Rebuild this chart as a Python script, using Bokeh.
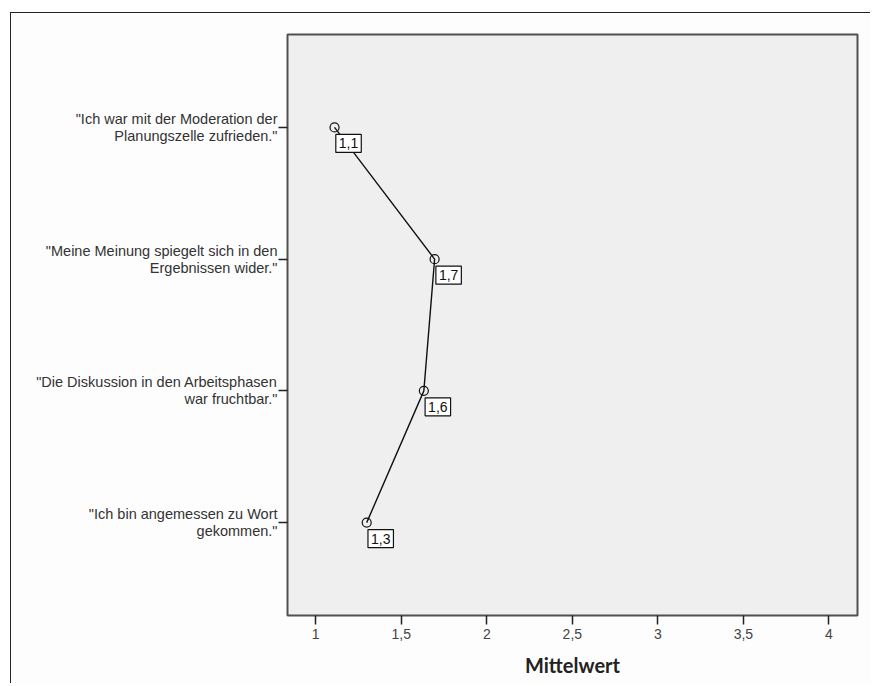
from bokeh.plotting import figure
from bokeh.models import FactorRange, Range1d, FixedTicker
from bokeh.core.properties import value
from bokeh.embed import file_html
from bokeh.resources import INLINE

# ---- data ----
items = [
    '"Ich war mit der Moderation der\nPlanungszelle zufrieden."',
    '"Meine Meinung spiegelt sich in den\nErgebnissen wider."',
    '"Die Diskussion in den Arbeitsphasen\nwar fruchtbar."',
    '"Ich bin angemessen zu Wort\ngekommen."',
]
means = [1.11, 1.695, 1.632, 1.298]
mean_labels = ["1,1", "1,7", "1,6", "1,3"]
x_ticks = [1, 1.5, 2, 2.5, 3, 3.5, 4]
x_tick_labels = ["1", "1,5", "2", "2,5", "3", "3,5", "4"]
x_title = "Mittelwert"

FONT = "Liberation Sans"

p = figure(
    width=860, height=671,
    output_backend="svg", toolbar_location=None,
    x_range=Range1d(0.835, 4.167),
    y_range=FactorRange(factors=list(reversed(items)), range_padding=0.205,
                        range_padding_units="absolute"),
    min_border_left=276, min_border_top=21, min_border_right=14, min_border_bottom=69,
)
p.styles = {"border-left": "1.5px solid #222", "border-top": "1.5px solid #222",
            "margin-left": "10px", "margin-top": "12px"}

p.background_fill_color = "#efefef"
p.border_fill_color = "#fdfdfd"
p.outline_line_color = "#505050"
p.outline_line_width = 2
p.grid.visible = False

# x axis
xa = p.xaxis[0]
xa.ticker = FixedTicker(ticks=x_ticks)
xa.major_label_overrides = dict(zip(x_ticks, x_tick_labels))
xa.axis_line_color = None
xa.major_tick_out = 9
xa.major_tick_in = 0
xa.major_tick_line_width = 1.5
xa.major_tick_line_color = "#222222"
xa.minor_tick_line_color = None
xa.major_label_text_font = FONT
xa.major_label_text_font_size = "14px"
xa.major_label_text_color = "#444444"
xa.major_label_standoff = 4
xa.axis_label = x_title
xa.axis_label_text_font = "Lato"
xa.axis_label_text_font_style = "bold"
xa.axis_label_text_font_size = "20px"
xa.axis_label_text_color = "#222222"
xa.axis_label_standoff = 11

# y axis
ya = p.yaxis[0]
ya.axis_line_color = None
ya.major_tick_out = 9
ya.major_tick_in = 0
ya.major_tick_line_width = 1.5
ya.major_tick_line_color = "#222222"
ya.minor_tick_line_color = None
ya.major_label_text_font = FONT
ya.major_label_text_font_size = "14.5px"
ya.major_label_text_line_height = 1.05
ya.major_label_text_color = "#333333"
ya.major_label_text_align = "right"
ya.major_label_standoff = 1

# marks
p.line(x=means, y=items, line_color="#111111", line_width=1.4)
p.scatter(x=means, y=items, marker="circle", size=9, fill_color=None,
          line_color="#111111", line_width=1.2)
p.text(x=means, y=items, text=mean_labels, x_offset=14, y_offset=16,
       text_align="center", text_baseline="middle",
       text_font=value(FONT), text_font_size="14px", text_color="#111111",
       background_fill_color="white", border_line_color="#111111",
       border_line_width=1.2, padding=(3, 4))

open("out.html", "w").write(file_html(p, INLINE))
